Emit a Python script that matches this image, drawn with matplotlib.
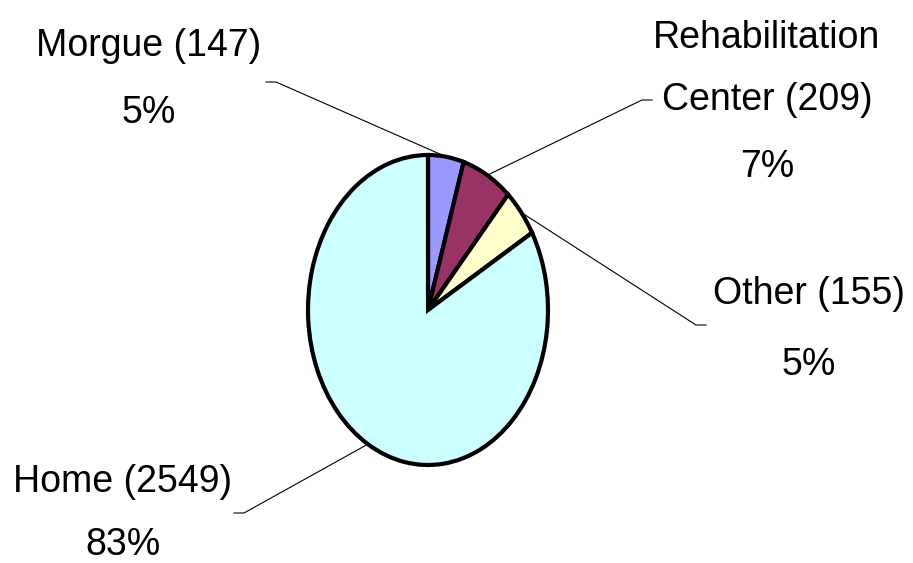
import numpy as np
import matplotlib.pyplot as plt

labels = ['Morgue', 'Rehabilitation\nCenter', 'Other', 'Home']
counts = [147, 209, 155, 2549]
colors = ['#9999FF', '#993366', '#FFFFCC', '#CCFFFF']

W, H = 913, 563
cx, cy, rx, ry = 428, 310, 120, 155

fig = plt.figure(figsize=(W / 100, H / 100), dpi=100)
ax = fig.add_axes([0, 0, 1, 1])

wedges, _ = ax.pie(counts, colors=colors, startangle=90, counterclock=False,
                   wedgeprops=dict(edgecolor='black', linewidth=3))
ax.set_aspect('auto')
ax.set_xlim(-cx / rx, (W - cx) / rx)
ax.set_ylim(-(H - cy) / ry, cy / ry)
ax.axis('off')


def px(x, y):
    return (x - cx) / rx, (cy - y) / ry


# per label: x centre and the y centre of each text line (pixels)
label_x = [149, 767, 809, 123]
line_y = [[42, 109], [34, 96, 163], [290, 361], [478, 541]]
# leader line: elbow point, then a short flat tail to the end
elbow = [(276, 82), (642, 100), (696, 325), (244, 513)]
line_end = [(266, 82), (652, 100), (706, 325), (234, 513)]

total = sum(counts)
for w, lab, n, lx, ly, el, le in zip(wedges, labels, counts, label_x, line_y,
                                     elbow, line_end):
    mid = np.deg2rad((w.theta1 + w.theta2) / 2)
    x0, y0 = np.cos(mid), np.sin(mid)
    (x1, y1), (x2, y2) = px(*el), px(*le)
    ax.plot([x0, x1, x2], [y0, y1, y2], color='black', lw=0.8, zorder=0)
    pct = round(100 * n / total)
    rows = f'{lab} ({n})'.split('\n') + [f'{pct}%']
    for row, y in zip(rows, ly):
        tx, ty = px(lx, y)
        ax.text(tx, ty, row, ha='center', va='center_baseline', fontsize=27,
                family=['Liberation Sans', 'DejaVu Sans'])

fig.savefig('out.png', dpi=100)
